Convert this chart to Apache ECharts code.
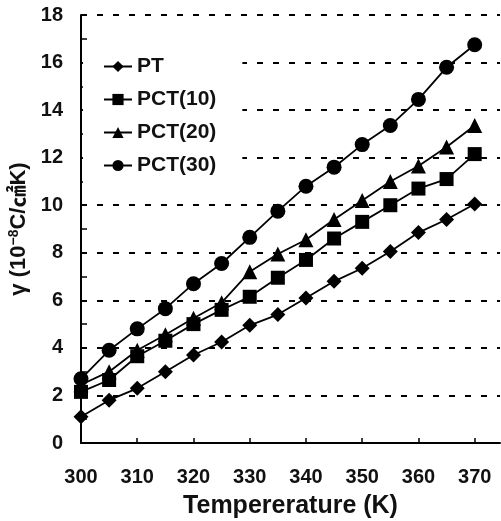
<!DOCTYPE html>
<html>
<head>
<meta charset="utf-8">
<script src="https://cdn.jsdelivr.net/npm/echarts@6/dist/echarts.min.js"></script>
<style>
  html, body { margin: 0; padding: 0; background: #fff; }
  #chart { width: 501px; height: 521px; }
</style>
</head>
<body>
<div id="chart"></div>
<script>
// temperature (K), one point every 5 K
var temps = [300, 305, 310, 315, 320, 325, 330, 335, 340, 345, 350, 355, 360, 365, 370];
// pyroelectric coefficient, 10^-8 C/cm2K
var pt     = [1.1, 1.8, 2.3, 3.0, 3.7, 4.25, 4.95, 5.4, 6.1, 6.8, 7.35, 8.05, 8.85, 9.4, 10.05];
var pct10  = [2.15, 2.65, 3.65, 4.3, 5.0, 5.6, 6.15, 6.95, 7.7, 8.6, 9.3, 10.0, 10.7, 11.1, 12.15];
var pct20  = [2.45, 3.0, 3.9, 4.55, 5.25, 5.9, 7.2, 7.95, 8.55, 9.4, 10.2, 11.0, 11.65, 12.45, 13.35];
var pct30  = [2.7, 3.9, 4.8, 5.65, 6.7, 7.55, 8.65, 9.75, 10.8, 11.6, 12.55, 13.35, 14.45, 15.8, 16.75];
var seriesNames = ['PT', 'PCT(10)', 'PCT(20)', 'PCT(30)'];

var FONT = '"Liberation Sans", Arial, "Noto Sans CJK KR", sans-serif';

function pairs(vals) {
    return temps.map(function (t, i) { return [t, vals[i]]; });
}

function lineSeries(name, vals, symbol, size) {
    return {
        name: name,
        type: 'line',
        data: pairs(vals),
        symbol: symbol,
        symbolSize: size,
        lineStyle: { color: '#000', width: 1.8 },
        itemStyle: { color: '#000' },
        animation: false
    };
}

var chart = echarts.init(document.getElementById('chart'));
chart.setOption({
    backgroundColor: '#fff',
    grid: { left: 81, right: 1, top: 15, bottom: 78, outerBoundsMode: 'none' },
    legend: {
        data: seriesNames,
        orient: 'vertical',
        left: 83,
        top: 46,
        backgroundColor: '#fff',
        padding: [10, 26, 8, 20],
        itemWidth: 28,
        itemHeight: 14,
        itemGap: 12,
        textStyle: { fontFamily: FONT, fontSize: 21, fontWeight: 'bold', color: '#111' }
    },
    xAxis: {
        type: 'value',
        min: 300,
        max: 374.5,
        interval: 10,
        axisLine: { show: true, lineStyle: { color: '#000', width: 2 } },
        axisTick: { show: true, inside: true, length: 5, lineStyle: { color: '#000', width: 1.5 } },
        axisLabel: { showMaxLabel: false, margin: 24, fontFamily: FONT, fontSize: 20, fontWeight: 'bold', color: '#111' },
        splitLine: { show: false },
        name: 'Tempererature (K)',
        nameLocation: 'middle',
        nameGap: 51,
        nameTextStyle: { fontFamily: FONT, fontSize: 25, fontWeight: 'bold', color: '#111' }
    },
    yAxis: {
        type: 'value',
        min: 0,
        max: 18,
        interval: 2,
        axisLine: { show: true, lineStyle: { color: '#000', width: 2 } },
        axisTick: { show: true, inside: true, length: 6, lineStyle: { color: '#000', width: 1.5 } },
        minorTick: { show: true, splitNumber: 2, length: 6, lineStyle: { color: '#000', width: 1.5 } },
        axisLabel: { margin: 18, fontFamily: FONT, fontSize: 20, fontWeight: 'bold', color: '#111' },
        splitLine: { show: true, lineStyle: { color: '#000', width: 1.8, type: [6, 10] } },
        name: '{a|γ (10}{s|−8}{a|C/㎠K)}',
        nameLocation: 'middle',
        nameGap: 46,
        nameRotate: 90,
        nameTextStyle: {
            rich: {
                a: { fontFamily: FONT, fontSize: 22, fontWeight: 'bold', color: '#111' },
                s: { fontFamily: FONT, fontSize: 14, fontWeight: 'bold', color: '#111', verticalAlign: 'top', padding: [0, 0, 10, 0] }
            }
        }
    },
    series: [
        lineSeries(seriesNames[0], pt, 'diamond', 15),
        lineSeries(seriesNames[1], pct10, 'rect', 14),
        lineSeries(seriesNames[2], pct20, 'triangle', 15),
        lineSeries(seriesNames[3], pct30, 'circle', 15)
    ]
});
</script>
</body>
</html>
